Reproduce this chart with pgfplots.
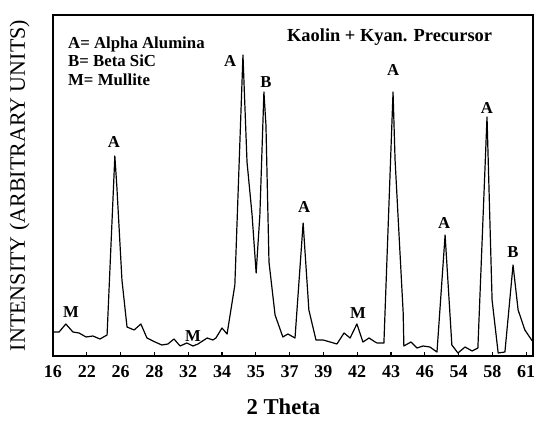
\documentclass[border=0pt]{standalone}
\usepackage{pgfplots}
\pgfplotsset{compat=1.18}
\usepackage{fontspec}
\setmainfont{Liberation Serif}
\begin{document}
\begin{tikzpicture}
\begin{axis}[
  scale only axis,
  width=360pt, height=255.75pt,
  xmin=0, xmax=14.2, ymin=0, ymax=341,
  clip=false,
  axis line style={line width=0.9pt},
  xtick={0,...,14},
  xticklabels={\textbf{16},\textbf{22},\textbf{26},\textbf{28},\textbf{32},\textbf{34},\textbf{35},\textbf{37},\textbf{39},\textbf{42},\textbf{43},\textbf{46},\textbf{54},\textbf{58},\textbf{61}},
  xticklabel style={font=\fontsize{13.5}{14}\selectfont, yshift=-3.75pt},
  ytick=\empty,
  xtick pos=left,
  tick align=inside,
  major tick length=3pt,
  every tick/.style={line width=0.8pt, black},
  xlabel={\textbf{2 Theta}},
  xlabel style={font=\fontsize{17}{18}\selectfont, at={(axis description cs:0.48,-0.173)}, anchor=base, inner sep=0pt},
  ylabel={INTENSITY (ARBITRARY UNITS)},
  ylabel style={font=\fontsize{16.5}{17}\selectfont, at={(axis description cs:-0.048,0.5)}, anchor=south, inner sep=0pt, rotate=0},
]
\addplot[black, line width=0.9pt, line join=round] coordinates {
(0.03,24) (0.18,24) (0.38,32) (0.59,24) (0.77,23) (0.98,19) (1.18,20) (1.39,17) (1.60,21)
(1.83,200) (1.89,169) (2.04,76) (2.19,29) (2.40,26) (2.60,32) (2.78,18) (3.02,14) (3.22,11)
(3.40,12) (3.58,17) (3.76,10) (3.96,13) (4.14,10) (4.29,12) (4.56,18) (4.73,16) (4.82,18)
(5.00,28) (5.15,22) (5.38,71) (5.62,301) (5.74,194) (5.89,141) (6.01,83) (6.12,141) (6.24,264)
(6.30,231) (6.39,94) (6.57,41) (6.80,19) (6.95,22) (7.16,18) (7.40,133) (7.57,46) (7.78,16)
(7.99,16) (8.20,14) (8.40,12) (8.61,23) (8.79,18) (8.99,32) (9.17,14) (9.35,18) (9.53,14)
(9.59,13) (9.79,13) (10.06,264) (10.12,196) (10.36,43) (10.38,10) (10.59,14) (10.77,8)
(10.95,10) (11.15,9) (11.36,4) (11.60,121) (11.80,11) (11.98,3) (12.19,9) (12.40,5) (12.57,8)
(12.84,239) (12.99,56) (13.17,3) (13.37,4) (13.61,91) (13.76,46) (13.96,26) (14.20,14)
};
\begin{scope}[every node/.style={font=\bfseries\fontsize{12.5}{13}\selectfont, inner sep=0pt}]
\node at (axis cs:1.80,214) {A};
\node at (axis cs:0.53,44) {M};
\node at (axis cs:4.14,20) {M};
\node at (axis cs:5.24,295) {A};
\node at (axis cs:6.30,274) {B};
\node at (axis cs:7.43,149) {A};
\node at (axis cs:9.02,43) {M};
\node at (axis cs:10.06,286) {A};
\node at (axis cs:11.57,133) {A};
\node at (axis cs:12.84,248) {A};
\node at (axis cs:13.61,104) {B};
\end{scope}
\begin{scope}[every node/.style={anchor=base west, inner sep=0pt, font=\bfseries\fontsize{12.6}{14}\selectfont}]
\node at (axis cs:0.44,308) {A= Alpha Alumina};
\node at (axis cs:0.44,289.3) {B= Beta SiC};
\node at (axis cs:0.44,270.6) {M= Mullite};
\end{scope}
\node[anchor=base west, inner sep=0pt, font=\bfseries\fontsize{13.8}{14}\selectfont] at (axis cs:6.92,315) {Kaolin + Kyan. Precursor};
\coordinate (bbsw) at (axis description cs:-0.1104,-0.1906);
\coordinate (bbne) at (axis description cs:1.0021,1.044);
\end{axis}
\pgfresetboundingbox
\path[use as bounding box] (bbsw) rectangle (bbne);
\end{tikzpicture}
\end{document}
